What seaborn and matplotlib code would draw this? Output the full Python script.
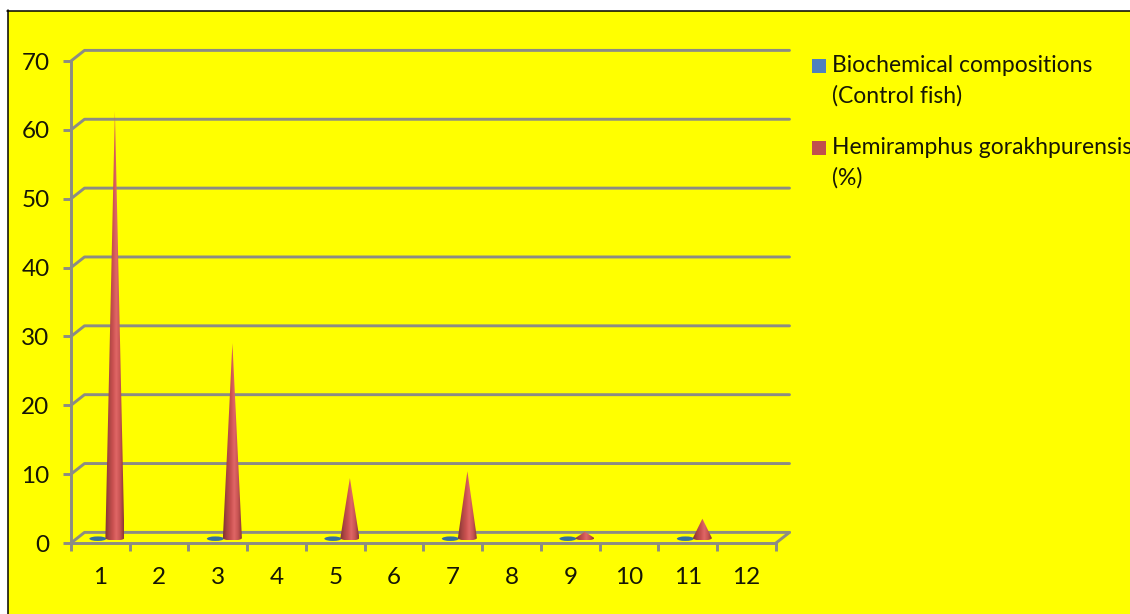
import numpy as np
import pandas as pd
import matplotlib
matplotlib.use("Agg")
import matplotlib.pyplot as plt
from matplotlib.colors import LinearSegmentedColormap
from matplotlib.patches import Ellipse, PathPatch, Rectangle
from matplotlib.path import Path
from matplotlib.lines import Line2D
import seaborn as sns

categories = ["1", "2", "3", "4", "5", "6", "7", "8", "9", "10", "11", "12"]
control_values = [0.1, None, 0.1, None, 0.1, None, 0.1, None, 0.1, None, 0.1, None]
hemiramphus_values = [62.0, None, 28.3, None, 8.7, None, 9.7, None, 0.9, None, 2.8, None]
series_names = [
    "Biochemical compositions\n(Control fish)",
    "Hemiramphus gorakhpurensis\n(%)",
]
y_ticks = [0, 10, 20, 30, 40, 50, 60, 70]

W, H = 1130, 614
GRAY = "#8C8C84"
TEXT = "#161606"
YELLOW = "#FFFF00"
FONT = "Lato"
LINE_W = 2.1

sns.set_theme(style="white")
plt.rcParams["font.family"] = [FONT, "DejaVu Sans"]

fig = plt.figure(figsize=(W / 100, H / 100), dpi=100, facecolor="white")


def px_rect(x0, y0, x1, y1):
    """Figure-fraction rectangle from pixel corners measured from the top left."""
    return [x0 / W, 1 - y1 / H, (x1 - x0) / W, (y1 - y0) / H]


# Page background with its black top and left rules
fig.add_artist(Rectangle((8 / W, 0), 1, 1 - 11 / H, transform=fig.transFigure,
                         facecolor=YELLOW, edgecolor="none", zorder=-10))
fig.add_artist(Line2D([7.5 / W, 7.5 / W], [0, 1 - 10 / H], color="black", lw=1.1))
fig.add_artist(Line2D([7 / W, 1], [1 - 10.5 / H, 1 - 10.5 / H], color="black", lw=1.1))

ax = fig.add_axes(px_rect(71, 61, 776, 543))
ax.patch.set_alpha(0)

table = pd.DataFrame({
    "category": categories * 2,
    "value": control_values + hemiramphus_values,
    "series": [series_names[0]] * 12 + [series_names[1]] * 12,
})
sns.barplot(data=table, x="category", y="value", hue="series", order=categories,
            hue_order=series_names, width=0.58, legend=False, ax=ax, errorbar=None)

PX_X = 705 / 12          # pixels per category
PX_Y = 482 / 70          # pixels per value unit
DEPTH_X = 13.5 / PX_X    # receding offset of the back wall
DEPTH_Y = 10.6 / PX_Y
MID_X = 6 / PX_X         # markers stand midway into the floor
MID_Y = 5 / PX_Y
BASE_RY = 2.5 / PX_Y

cone_cmap = LinearSegmentedColormap.from_list(
    "cone", ["#7d3232", "#a84442", "#c8504f", "#e06666", "#c75352", "#8a3634"])
gradient = np.linspace(0, 1, 128).reshape(1, -1)

# Back wall gridlines, each with its diagonal return to the front axis
for tick in y_ticks:
    ax.plot([-0.5, -0.5 + DEPTH_X, 11.5 + DEPTH_X],
            [tick, tick + DEPTH_Y, tick + DEPTH_Y],
            color=GRAY, lw=LINE_W, clip_on=False, zorder=1, solid_joinstyle="round")
ax.plot([11.5, 11.5 + DEPTH_X], [0, DEPTH_Y], color=GRAY, lw=LINE_W, clip_on=False, zorder=1)

control_bars, red_bars = ax.containers[0], ax.containers[1]

# Control series sits flat on the floor
for bar in control_bars:
    if np.isnan(bar.get_height()):
        continue
    centre = bar.get_x() + bar.get_width() / 2 + MID_X
    ax.add_patch(Ellipse((centre, MID_Y - 0.1), 17 / PX_X, 4.5 / PX_Y,
                         facecolor="#35709f", edgecolor="none", clip_on=False, zorder=3))
    bar.set_visible(False)

# Hemiramphus series as shaded cones with a rounded base
for bar in red_bars:
    height = bar.get_height()
    if np.isnan(height):
        continue
    centre = bar.get_x() + bar.get_width() / 2 + MID_X
    half = 9.5 / PX_X
    base = MID_Y
    angles = np.linspace(np.pi, 2 * np.pi, 30)
    outline = [(centre + half * np.cos(a), base + BASE_RY * np.sin(a)) for a in angles]
    outline += [(centre, base + height), outline[0]]
    codes = [Path.MOVETO] + [Path.LINETO] * (len(outline) - 2) + [Path.CLOSEPOLY]
    clip = PathPatch(Path(outline, codes), transform=ax.transData, facecolor="none",
                     edgecolor="none")
    ax.add_patch(clip)
    image = ax.imshow(gradient, cmap=cone_cmap, aspect="auto", zorder=4,
                      extent=(centre - half, centre + half, base - BASE_RY, base + height))
    image.set_clip_path(clip)
    bar.set_visible(False)

ax.set_xlim(-0.5, 11.5)
ax.set_ylim(0, 70)
ax.set_xlabel("")
ax.set_ylabel("")

for side in ("top", "right"):
    ax.spines[side].set_visible(False)
for side in ("left", "bottom"):
    ax.spines[side].set_color(GRAY)
    ax.spines[side].set_linewidth(LINE_W)
    ax.spines[side].set_zorder(2)

ax.set_yticks(y_ticks)
ax.set_yticklabels([str(t) for t in y_ticks], fontsize=17.5, color=TEXT)
ax.tick_params(axis="y", left=True, length=5.5, width=LINE_W, color=GRAY, pad=10)

# Tick marks fall between categories; labels stay centred on them
ax.set_xticks(np.arange(-0.5, 12, 1))
ax.set_xticklabels([])
ax.set_xticks(np.arange(12), labels=categories, minor=True)
ax.tick_params(axis="x", which="major", bottom=True, length=5.5, width=LINE_W, color=GRAY)
ax.tick_params(axis="x", which="minor", bottom=False, length=0, pad=17,
               labelsize=17.5, labelcolor=TEXT)

# Legend keys and their two-line labels
legend_colors = ["#4F81BD", "#C0504D"]
legend_tops = [59, 141]
for name, color, top in zip(series_names, legend_colors, legend_tops):
    fig.add_artist(Rectangle((812 / W, 1 - (top + 14) / H), 14 / W, 14 / H,
                             transform=fig.transFigure, facecolor=color, edgecolor="none"))
    first, second = name.split("\n")
    fig.text(832 / W, 1 - (top + 6.5) / H, first, fontsize=16.5, color=TEXT, va="center", ha="left")
    fig.text(832 / W, 1 - (top + 36.5) / H, second, fontsize=16.5, color=TEXT, va="center", ha="left")

fig.savefig("out.png", dpi=100, facecolor="white")
